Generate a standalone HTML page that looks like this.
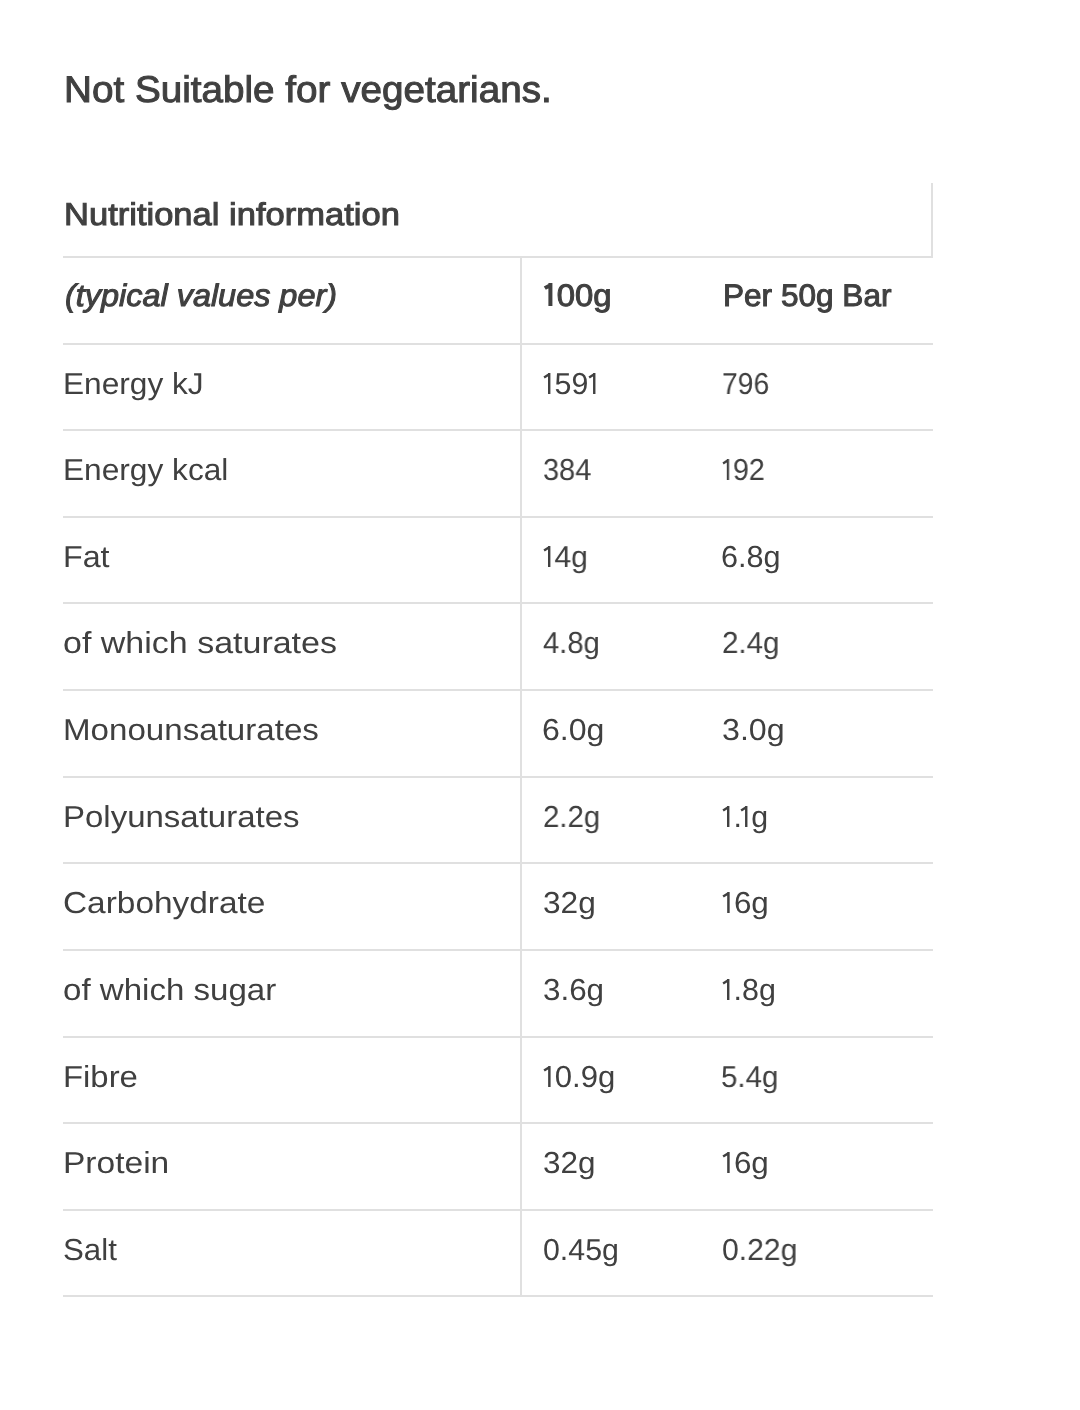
<!DOCTYPE html>
<html><head><meta charset="utf-8"><title>Nutritional information</title>
<style>
html,body{margin:0;padding:0;background:#fff;width:1080px;height:1410px;overflow:hidden;position:relative}
.t{position:absolute;white-space:nowrap;font-family:"Liberation Sans",sans-serif;color:#404040;transform-origin:0 0;text-rendering:geometricPrecision;will-change:transform}
.h{position:absolute;left:63px;width:870px;height:2px;background:#e0e0e0}
.v{position:absolute;width:2px;background:#e0e0e0}
.o{vertical-align:baseline;overflow:visible}
</style></head><body>
<div class=h style='top:256px'></div>
<div class=h style='top:343px'></div>
<div class=h style='top:429px'></div>
<div class=h style='top:516px'></div>
<div class=h style='top:602px'></div>
<div class=h style='top:689px'></div>
<div class=h style='top:776px'></div>
<div class=h style='top:862px'></div>
<div class=h style='top:949px'></div>
<div class=h style='top:1036px'></div>
<div class=h style='top:1122px'></div>
<div class=h style='top:1209px'></div>
<div class=h style='top:1295px'></div>
<div class=v style='left:520px;top:256px;height:1039px'></div>
<div class=v style='left:931px;top:183px;height:75px'></div>
<div class=t style='left:63.84px;top:71.19px;font-size:37.1px;line-height:37.1px;font-style:normal;font-weight:normal;-webkit-text-stroke:1.0px #404040;transform:scaleX(1.0424)'>Not Suitable for vegetarians.</div>
<div class=t style='left:63.61px;top:199.14px;font-size:31.5px;line-height:31.5px;font-style:normal;font-weight:normal;-webkit-text-stroke:1.0px #404040;transform:scaleX(1.0961)'>Nutritional information</div>
<div class=t style='left:65.00px;top:280.37px;font-size:31.1px;line-height:31.1px;font-style:italic;font-weight:normal;-webkit-text-stroke:1.0px #404040;transform:scaleX(1.0424)'>(typical values per)</div>
<div class=t style='left:543.41px;top:280.37px;font-size:31.1px;line-height:31.1px;font-style:normal;font-weight:normal;-webkit-text-stroke:1.0px #404040;transform:scaleX(1.0578)'><svg class=o width='13' height='23' viewBox='0 0 13 23' style='margin-left:0px'><path d='M7.0 0V23M7.0 2.09L1.71 5.2' stroke='currentColor' stroke-width='3.8' fill='none' stroke-linejoin='round'/></svg>00g</div>
<div class=t style='left:722.70px;top:280.37px;font-size:31.1px;line-height:31.1px;font-style:normal;font-weight:normal;-webkit-text-stroke:1.0px #404040;transform:scaleX(1.0152)'>Per 50g Bar</div>
<div class=t style='left:63.40px;top:369.85px;font-size:30.3px;line-height:30.3px;font-style:normal;font-weight:normal;transform:scaleX(1.0441)'>Energy kJ</div>
<div class=t style='left:543.30px;top:369.85px;font-size:30.3px;line-height:30.3px;font-style:normal;font-weight:normal;transform:scaleX(1.0010)'><svg class=o width='11.5' height='21' viewBox='0 0 11.5 21' style='margin-left:0px'><path d='M6.2 0V21M6.2 1.32L1.08 4.6' stroke='currentColor' stroke-width='2.4' fill='none' stroke-linejoin='round'/></svg>59<svg class=o width='11.5' height='21' viewBox='0 0 11.5 21' style='margin-left:0px'><path d='M6.2 0V21M6.2 1.32L1.08 4.6' stroke='currentColor' stroke-width='2.4' fill='none' stroke-linejoin='round'/></svg></div>
<div class=t style='left:722.05px;top:369.85px;font-size:30.3px;line-height:30.3px;font-style:normal;font-weight:normal;transform:scaleX(0.9336)'>796</div>
<div class=t style='left:63.49px;top:455.85px;font-size:30.3px;line-height:30.3px;font-style:normal;font-weight:normal;transform:scaleX(1.0445)'>Energy kcal</div>
<div class=t style='left:543.07px;top:455.85px;font-size:30.3px;line-height:30.3px;font-style:normal;font-weight:normal;transform:scaleX(0.9562)'>384</div>
<div class=t style='left:722.33px;top:455.85px;font-size:30.3px;line-height:30.3px;font-style:normal;font-weight:normal;transform:scaleX(0.9486)'><svg class=o width='11.5' height='21' viewBox='0 0 11.5 21' style='margin-left:0px'><path d='M6.2 0V21M6.2 1.32L1.08 4.6' stroke='currentColor' stroke-width='2.4' fill='none' stroke-linejoin='round'/></svg>92</div>
<div class=t style='left:63.35px;top:542.85px;font-size:30.3px;line-height:30.3px;font-style:normal;font-weight:normal;transform:scaleX(1.0632)'>Fat</div>
<div class=t style='left:543.30px;top:542.85px;font-size:30.3px;line-height:30.3px;font-style:normal;font-weight:normal;transform:scaleX(0.9937)'><svg class=o width='11.5' height='21' viewBox='0 0 11.5 21' style='margin-left:0px'><path d='M6.2 0V21M6.2 1.32L1.08 4.6' stroke='currentColor' stroke-width='2.4' fill='none' stroke-linejoin='round'/></svg>4g</div>
<div class=t style='left:720.90px;top:542.85px;font-size:30.3px;line-height:30.3px;font-style:normal;font-weight:normal;transform:scaleX(1.0101)'>6.8g</div>
<div class=t style='left:62.69px;top:628.85px;font-size:30.3px;line-height:30.3px;font-style:normal;font-weight:normal;transform:scaleX(1.1219)'>of which saturates</div>
<div class=t style='left:542.93px;top:628.85px;font-size:30.3px;line-height:30.3px;font-style:normal;font-weight:normal;transform:scaleX(0.9640)'>4.8g</div>
<div class=t style='left:721.50px;top:628.85px;font-size:30.3px;line-height:30.3px;font-style:normal;font-weight:normal;transform:scaleX(0.9751)'>2.4g</div>
<div class=t style='left:62.87px;top:715.85px;font-size:30.3px;line-height:30.3px;font-style:normal;font-weight:normal;transform:scaleX(1.0929)'>Monounsaturates</div>
<div class=t style='left:542.32px;top:715.85px;font-size:30.3px;line-height:30.3px;font-style:normal;font-weight:normal;transform:scaleX(1.0587)'>6.0g</div>
<div class=t style='left:722.12px;top:715.85px;font-size:30.3px;line-height:30.3px;font-style:normal;font-weight:normal;transform:scaleX(1.0624)'>3.0g</div>
<div class=t style='left:63.29px;top:802.85px;font-size:30.3px;line-height:30.3px;font-style:normal;font-weight:normal;transform:scaleX(1.0886)'>Polyunsaturates</div>
<div class=t style='left:542.51px;top:802.85px;font-size:30.3px;line-height:30.3px;font-style:normal;font-weight:normal;transform:scaleX(0.9715)'>2.2g</div>
<div class=t style='left:721.80px;top:802.85px;font-size:30.3px;line-height:30.3px;font-style:normal;font-weight:normal;transform:scaleX(1.0019)'><svg class=o width='11.5' height='21' viewBox='0 0 11.5 21' style='margin-left:0px'><path d='M6.2 0V21M6.2 1.32L1.08 4.6' stroke='currentColor' stroke-width='2.4' fill='none' stroke-linejoin='round'/></svg>.<svg class=o width='11.5' height='21' viewBox='0 0 11.5 21' style='margin-left:-2.3px'><path d='M6.2 0V21M6.2 1.32L1.08 4.6' stroke='currentColor' stroke-width='2.4' fill='none' stroke-linejoin='round'/></svg>g</div>
<div class=t style='left:62.58px;top:888.85px;font-size:30.3px;line-height:30.3px;font-style:normal;font-weight:normal;transform:scaleX(1.1023)'>Carbohydrate</div>
<div class=t style='left:542.54px;top:888.85px;font-size:30.3px;line-height:30.3px;font-style:normal;font-weight:normal;transform:scaleX(1.0442)'>32g</div>
<div class=t style='left:721.77px;top:888.85px;font-size:30.3px;line-height:30.3px;font-style:normal;font-weight:normal;transform:scaleX(1.0359)'><svg class=o width='11.5' height='21' viewBox='0 0 11.5 21' style='margin-left:0px'><path d='M6.2 0V21M6.2 1.32L1.08 4.6' stroke='currentColor' stroke-width='2.4' fill='none' stroke-linejoin='round'/></svg>6g</div>
<div class=t style='left:62.73px;top:975.85px;font-size:30.3px;line-height:30.3px;font-style:normal;font-weight:normal;transform:scaleX(1.0916)'>of which sugar</div>
<div class=t style='left:542.55px;top:975.85px;font-size:30.3px;line-height:30.3px;font-style:normal;font-weight:normal;transform:scaleX(1.0354)'>3.6g</div>
<div class=t style='left:721.80px;top:975.85px;font-size:30.3px;line-height:30.3px;font-style:normal;font-weight:normal;transform:scaleX(1.0038)'><svg class=o width='11.5' height='21' viewBox='0 0 11.5 21' style='margin-left:0px'><path d='M6.2 0V21M6.2 1.32L1.08 4.6' stroke='currentColor' stroke-width='2.4' fill='none' stroke-linejoin='round'/></svg>.8g</div>
<div class=t style='left:63.30px;top:1062.85px;font-size:30.3px;line-height:30.3px;font-style:normal;font-weight:normal;transform:scaleX(1.0844)'>Fibre</div>
<div class=t style='left:542.88px;top:1062.85px;font-size:30.3px;line-height:30.3px;font-style:normal;font-weight:normal;transform:scaleX(1.0264)'><svg class=o width='11.5' height='21' viewBox='0 0 11.5 21' style='margin-left:0px'><path d='M6.2 0V21M6.2 1.32L1.08 4.6' stroke='currentColor' stroke-width='2.4' fill='none' stroke-linejoin='round'/></svg>0.9g</div>
<div class=t style='left:721.02px;top:1062.85px;font-size:30.3px;line-height:30.3px;font-style:normal;font-weight:normal;transform:scaleX(0.9747)'>5.4g</div>
<div class=t style='left:63.24px;top:1148.85px;font-size:30.3px;line-height:30.3px;font-style:normal;font-weight:normal;transform:scaleX(1.1065)'>Protein</div>
<div class=t style='left:542.55px;top:1148.85px;font-size:30.3px;line-height:30.3px;font-style:normal;font-weight:normal;transform:scaleX(1.0379)'>32g</div>
<div class=t style='left:721.77px;top:1148.85px;font-size:30.3px;line-height:30.3px;font-style:normal;font-weight:normal;transform:scaleX(1.0359)'><svg class=o width='11.5' height='21' viewBox='0 0 11.5 21' style='margin-left:0px'><path d='M6.2 0V21M6.2 1.32L1.08 4.6' stroke='currentColor' stroke-width='2.4' fill='none' stroke-linejoin='round'/></svg>6g</div>
<div class=t style='left:63.35px;top:1235.85px;font-size:30.3px;line-height:30.3px;font-style:normal;font-weight:normal;transform:scaleX(1.0309)'>Salt</div>
<div class=t style='left:542.77px;top:1235.85px;font-size:30.3px;line-height:30.3px;font-style:normal;font-weight:normal;transform:scaleX(1.0011)'>0.45g</div>
<div class=t style='left:722.38px;top:1235.85px;font-size:30.3px;line-height:30.3px;font-style:normal;font-weight:normal;transform:scaleX(0.9942)'>0.22g</div>
</body></html>
